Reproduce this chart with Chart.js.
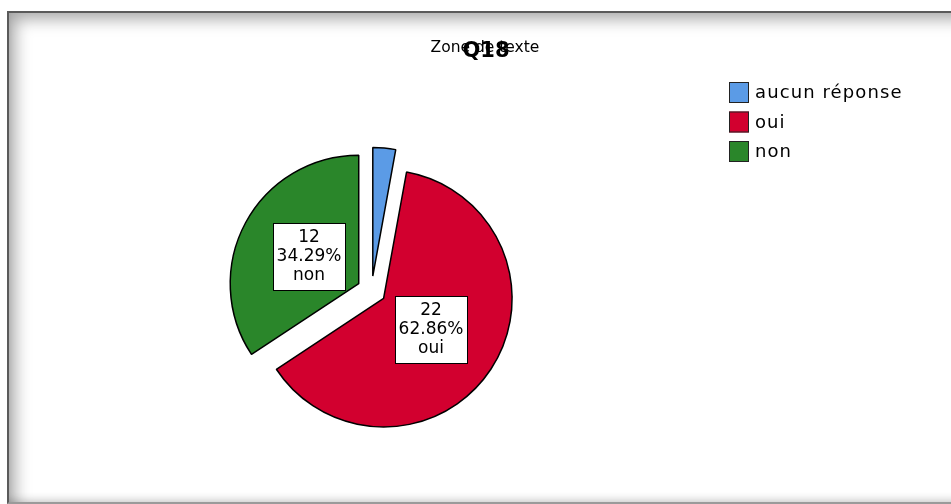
<!DOCTYPE html>
<html>
<head>
<meta charset="utf-8">
<script src="https://cdn.jsdelivr.net/npm/chart.js@4"></script>
<style>
    html, body { margin: 0; padding: 0; background: #fff; }
    body { width: 951px; height: 504px; position: relative; overflow: hidden; }
    #frame {
        position: absolute; left: 7px; top: 11px; width: 960px; height: 489px;
        border-left: 2px solid #5a5a5a; border-top: 2px solid #5a5a5a; border-bottom: 2px solid #9a9a9a;
        box-shadow: inset 9px 9px 16px -3px rgba(0,0,0,0.35), inset 0 -6px 8px -4px rgba(0,0,0,0.2);
        background: #fff;
    }
    #chart { position: absolute; left: 0; top: 0; }
</style>
</head>
<body>
<div id="frame"></div>
<canvas id="chart" width="951" height="504"></canvas>
<script>
const categories = ["aucun réponse", "oui", "non"];
const counts = [1, 22, 12];
const colors = ["#5b9be6", "#d2002f", "#2a862a"];
const showLabel = [false, true, true];
const chartTitle = "Q18";
const textBox = "Zone de texte";

const total = counts.reduce((a, b) => a + b, 0);
const explode = 14.5;

// every slice pulled out from the centre along its mid angle
const explodeSlices = {
    id: "explodeSlices",
    beforeDatasetDraw(chart, args) {
        const ctx = chart.ctx;
        args.meta.data.forEach((arc) => {
            const mid = (arc.startAngle + arc.endAngle) / 2;
            ctx.save();
            ctx.translate(Math.cos(mid) * explode, Math.sin(mid) * explode);
            arc.draw(ctx, chart.chartArea);
            ctx.restore();
        });
        return false;
    }
};

const overlay = {
    id: "overlay",
    afterDatasetsDraw(chart) {
        const ctx = chart.ctx;
        const meta = chart.getDatasetMeta(0);
        ctx.save();

        // data labels in white boxes
        ctx.font = "17px 'DejaVu Sans'";
        ctx.textAlign = "center";
        ctx.textBaseline = "middle";
        meta.data.forEach((arc, i) => {
            if (!showLabel[i]) return;
            const mid = (arc.startAngle + arc.endAngle) / 2;
            const dist = explode + arc.outerRadius * 0.44;
            const px = arc.x + Math.cos(mid) * dist;
            const py = arc.y + Math.sin(mid) * dist;
            const lines = [String(counts[i]), (counts[i] / total * 100).toFixed(2) + "%", categories[i]];
            const w = 72, h = 67;
            const bx = Math.round(px - w / 2), by = Math.round(py - h / 2);
            ctx.fillStyle = "#fff";
            ctx.fillRect(bx, by, w, h);
            ctx.strokeStyle = "#000";
            ctx.lineWidth = 1;
            ctx.strokeRect(bx + 0.5, by + 0.5, w, h);
            ctx.fillStyle = "#000";
            lines.forEach((t, k) => ctx.fillText(t, bx + w / 2, by + h / 2 + (k - 1) * 19));
        });

        // text box + title
        ctx.fillStyle = "#000";
        ctx.font = "15.5px 'DejaVu Sans'";
        ctx.fillText(textBox, 485, 48);
        ctx.font = "bold 21px 'DejaVu Sans'";
        ctx.fillText(chartTitle, 486, 52);

        // legend
        ctx.textAlign = "left";
        ctx.font = "18px 'DejaVu Sans'";
        ctx.letterSpacing = "1.1px";
        categories.forEach((c, i) => {
            const y = 82 + i * 29.5;
            ctx.fillStyle = colors[i];
            ctx.fillRect(729, y, 20, 21);
            ctx.strokeStyle = "#222";
            ctx.strokeRect(729.5, y + 0.5, 19, 20);
            ctx.fillStyle = "#000";
            ctx.fillText(c, 755, y + 11.5);
        });
        ctx.restore();
    }
};

new Chart(document.querySelector("#chart"), {
    type: "pie",
    data: {
        labels: categories,
        datasets: [{
            data: counts,
            backgroundColor: colors,
            borderColor: "#000",
            borderWidth: 1.5,
            offset: 0,
            hoverOffset: 0,
        }],
    },
    options: {
        responsive: false,
        animation: false,
        radius: 128.5,
        layout: { padding: { left: 0, right: 208, top: 77, bottom: 0 } },
        plugins: {
            legend: { display: false },
            tooltip: { enabled: false },
            title: { display: false },
        },
    },
    plugins: [explodeSlices, overlay],
});
</script>
</body>
</html>
